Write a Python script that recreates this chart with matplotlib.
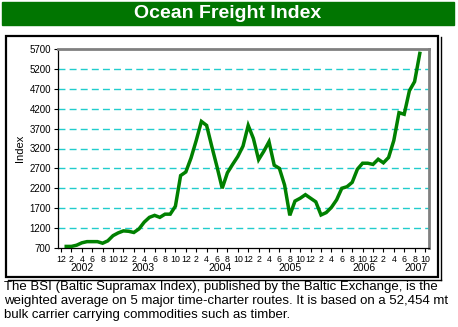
import matplotlib
matplotlib.use('Agg')
import matplotlib.pyplot as plt
from matplotlib.patches import Rectangle
from matplotlib.lines import Line2D
import matplotlib.transforms as mtransforms

plt.rcParams['font.family'] = ['Liberation Sans', 'DejaVu Sans']

# monthly BSI values, Jan 2002 .. Sep 2007 (month 0 = Dec 2001)
months = list(range(1, 70))
bsi = [740, 740, 770, 830, 860, 860, 860, 820, 880, 1010,
       1080, 1130, 1120, 1090, 1180, 1350, 1470, 1520, 1470, 1550,
       1550, 1750, 2520, 2610, 2960, 3400, 3880, 3780, 3250, 2740,
       2200, 2590, 2800, 3000, 3260, 3780, 3450, 2920, 3130, 3370,
       2780, 2700, 2280, 1520, 1880, 1950, 2040, 1950, 1860, 1530,
       1590, 1720, 1910, 2200, 2240, 2350, 2680, 2830, 2830, 2800,
       2930, 2840, 2975, 3400, 4100, 4060, 4650, 4880, 5590]

month_labels = ['12'] + ['2', '4', '6', '8', '10', '12'] * 5 + ['2', '4', '6', '8', '10']
years = ['2002', '2003', '2004', '2005', '2006', '2007']
year_pos = [4.0, 15.8, 30.6, 44.0, 58.3, 68.3]
y_ticks = list(range(700, 5701, 500))

caption = ("The BSI (Baltic Supramax Index), published by the Baltic Exchange, is the\n"
           "weighted average on 5 major time-charter routes. It is based on a 52,454 mt\n"
           "bulk carrier carrying commodities such as timber.")

W, H = 458, 327
fig = plt.figure(figsize=(W / 100, H / 100), dpi=100)


def px(x0, y0, x1, y1):
    # pixel box (top-left origin) -> figure fraction rect
    return [x0 / W, 1 - y1 / H, (x1 - x0) / W, (y1 - y0) / H]


# title bar
fig.patches.append(Rectangle((2 / W, 1 - 25 / H), 452 / W, 23 / H,
                             transform=fig.transFigure, color='#017501', zorder=0))
fig.text(228 / W, 1 - 14 / H, 'Ocean Freight Index', color='white', fontsize=14,
         fontweight='bold', ha='center', va='center')

# outer frame with a double edge on the right and bottom
fig.patches.append(Rectangle((6 / W, 1 - 277 / H), 432 / W, 241 / H, transform=fig.transFigure,
                             fill=False, edgecolor='black', linewidth=1.6, zorder=1))
fig.lines.append(Line2D([441 / W, 441 / W], [1 - 37 / H, 1 - 280 / H],
                        transform=fig.transFigure, color='black', linewidth=1.0))
fig.lines.append(Line2D([8 / W, 441 / W], [1 - 280 / H, 1 - 280 / H],
                        transform=fig.transFigure, color='black', linewidth=1.0))

ax = fig.add_axes(px(58, 49, 429, 248))
ax.plot(months, bsi, color='#008000', linewidth=2.5, solid_joinstyle='miter', zorder=3)

ax.set_xlim(-0.58, 70.77)
ax.set_ylim(700, 5700)
ax.set_yticks(y_ticks)
ax.set_yticklabels([str(v) for v in y_ticks], fontsize=7)
ax.set_xticks(range(0, 71, 2))
ax.set_xticklabels(month_labels, fontsize=6.3)
ax.tick_params(axis='both', direction='out', length=3, width=0.8, pad=2)

for v in y_ticks[1:-1]:
    ax.axhline(v, color='#22CCCC', linewidth=1.0, dashes=(5, 3), zorder=1)

for side in ['top', 'right']:
    ax.spines[side].set_color('#808080')
    ax.spines[side].set_linewidth(2)
for side in ['left', 'bottom']:
    ax.spines[side].set_color('black')
    ax.spines[side].set_linewidth(0.9)

trans = mtransforms.blended_transform_factory(ax.transData, fig.transFigure)
for yr, pos in zip(years, year_pos):
    ax.text(pos, 1 - 268 / H, yr, transform=trans, fontsize=7.5, ha='center', va='center')

fig.text(20 / W, 1 - 148 / H, 'Index', rotation=90, fontsize=8, ha='center', va='center')

fig.text(4 / W, 1 - 281 / H, caption, fontsize=9.5, ha='left', va='top', linespacing=1.2)

fig.savefig('out.png', dpi=100)
